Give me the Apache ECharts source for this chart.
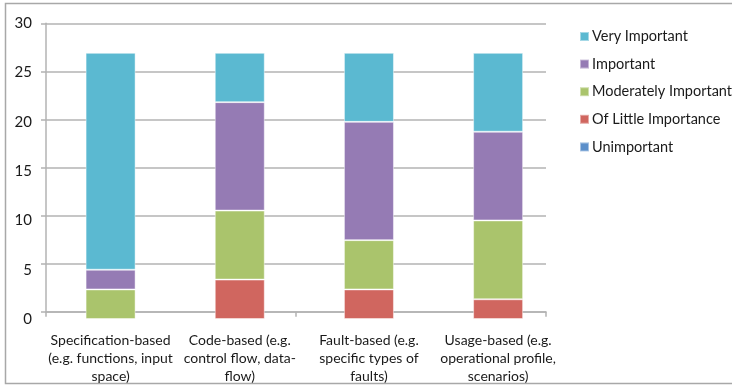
<!DOCTYPE html>
<html>
<head>
<meta charset="utf-8">
<script src="https://cdn.jsdelivr.net/npm/echarts@6/dist/echarts.min.js"></script>
<style>
  html, body { margin: 0; padding: 0; background: #ffffff; }
  #chart { width: 732px; height: 385px; }
</style>
</head>
<body>
<div id="chart"></div>
<script>
// Testing technique categories (x axis)
const categories = [
  'Specification-based\n(e.g. functions, input\nspace)',
  'Code-based (e.g.\ncontrol flow, data-\nflow)',
  'Fault-based (e.g.\nspecific types of\nfaults)',
  'Usage-based (e.g.\noperational profile,\nscenarios)'
];

// Number of responses per importance rating, stacked bottom to top
const unimportant         = [0, 0, 0, 0];
const ofLittleImportance  = [0, 4, 3, 2];
const moderatelyImportant = [3, 7, 5, 8];
const important           = [2, 11, 12, 9];
const veryImportant       = [22, 5, 7, 8];

// Value axis ticks
const yTicks = [0, 5, 10, 15, 20, 25, 30];

const FONT = 'Lato';
const TEXT = '#1a1a1a';
const GRID = '#b3b3b3';

const seriesDefs = [
  { name: 'Unimportant',          data: unimportant,         color: '#5b8fca' },
  { name: 'Of Little Importance', data: ofLittleImportance,  color: '#d0665f' },
  { name: 'Moderately Important', data: moderatelyImportant, color: '#aac46c' },
  { name: 'Important',            data: important,           color: '#957bb4' },
  { name: 'Very Important',       data: veryImportant,       color: '#5bb9d1' }
];

const chart = echarts.init(document.getElementById('chart'), null, { renderer: 'canvas' });

chart.setOption({
  animation: false,
  backgroundColor: '#ffffff',
  textStyle: { fontFamily: FONT },
  graphic: [{
    type: 'rect',
    shape: { x: 5.5, y: 3.5, width: 740, height: 380 },
    style: { fill: 'none', stroke: '#a8a8a8', lineWidth: 1.5 },
    silent: true,
    z: -10
  }],
  legend: {
    orient: 'vertical',
    left: 579,
    top: 29,
    padding: 0,
    itemWidth: 9,
    itemHeight: 9,
    itemGap: 12.6,
    icon: 'rect',
    data: ['Very Important', 'Important', 'Moderately Important', 'Of Little Importance', 'Unimportant'],
    textStyle: { fontFamily: FONT, fontSize: 14.5, color: TEXT, lineHeight: 15, padding: [0, 0, 0, -2] }
  },
  grid: [
    // frame: gridlines, value axis line and category boundary ticks
    { left: 46, top: 23.3, width: 500, height: 288.4 },
    // bars and text labels
    { left: 46, top: 23.3, width: 516.7, height: 297.4 }
  ],
  xAxis: [
    {
      gridIndex: 0,
      type: 'category',
      data: categories,
      position: 'bottom',
      offset: 9,
      boundaryGap: true,
      axisLine: { show: true, lineStyle: { color: GRID, width: 1.5 } },
      axisTick: { show: true, length: 5, lineStyle: { color: GRID, width: 1.5 } },
      axisLabel: { show: false },
      splitLine: { show: false }
    },
    {
      gridIndex: 1,
      type: 'category',
      data: categories,
      axisLine: { show: false },
      axisTick: { show: false },
      axisLabel: {
        show: true,
        interval: 0,
        margin: 12,
        fontFamily: FONT,
        fontSize: 14,
        lineHeight: 18,
        color: TEXT,
        align: 'center'
      }
    }
  ],
  yAxis: [
    {
      gridIndex: 0,
      type: 'value',
      min: yTicks[0],
      max: yTicks[yTicks.length - 1],
      interval: 5,
      axisLine: { show: true, lineStyle: { color: GRID, width: 1.5 } },
      axisTick: { show: true, length: 5, lineStyle: { color: GRID, width: 1.5 } },
      axisLabel: { show: false },
      splitLine: { show: true, lineStyle: { color: GRID, width: 1.5 } }
    },
    {
      gridIndex: 1,
      type: 'value',
      min: yTicks[0],
      max: yTicks[yTicks.length - 1],
      interval: 5,
      axisLine: { show: false },
      axisTick: { show: false },
      splitLine: { show: false },
      axisLabel: { show: true, margin: 14, fontFamily: FONT, fontSize: 15, color: TEXT, padding: [3, 0, 0, 0] }
    }
  ],
  series: seriesDefs.map(s => ({
    name: s.name,
    type: 'bar',
    stack: 'total',
    xAxisIndex: 1,
    yAxisIndex: 1,
    barWidth: 50,
    data: s.data,
    itemStyle: { color: s.color, borderColor: 'rgba(255,255,255,0.45)', borderWidth: 1 },
    emphasis: { disabled: true }
  }))
});
</script>
</body>
</html>
